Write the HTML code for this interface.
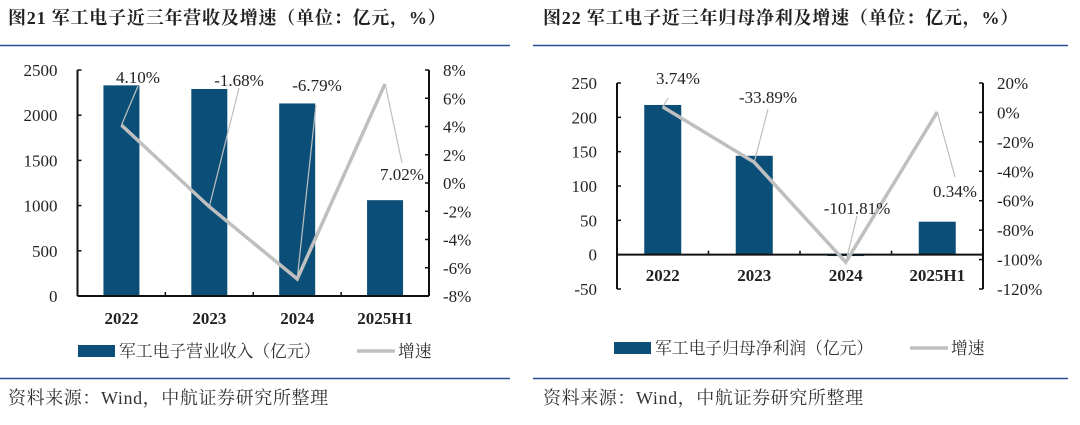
<!DOCTYPE html>
<html><head><meta charset="utf-8">
<style>
html,body{margin:0;padding:0;background:#fff;}
svg{display:block;}
.t{font-family:"Liberation Serif","Noto Serif CJK SC",serif;}
</style></head>
<body>
<svg id="s" width="1080" height="425" xmlns="http://www.w3.org/2000/svg">
<text class="t" x="8" y="24" font-size="18" letter-spacing="0.8" font-weight="bold" fill="#222">图21  军工电子近三年营收及增速（单位：亿元，%）</text>
<text class="t" x="543" y="24" font-size="18" letter-spacing="0.8" font-weight="bold" fill="#222">图22  军工电子近三年归母净利及增速（单位：亿元，%）</text>
<line x1="0" y1="45.5" x2="510" y2="45.5" stroke="#2a4f8f" stroke-width="1.5"/>
<line x1="533" y1="45.5" x2="1068" y2="45.5" stroke="#2a4f8f" stroke-width="1.5"/>
<line x1="0" y1="378.5" x2="510" y2="378.5" stroke="#2a4f8f" stroke-width="1.5"/>
<line x1="533" y1="378.5" x2="1068" y2="378.5" stroke="#2a4f8f" stroke-width="1.5"/>
<text class="t" x="8" y="404" font-size="18" letter-spacing="0.6" fill="#333">资料来源：Wind，中航证券研究所整理</text>
<text class="t" x="543" y="404" font-size="18" letter-spacing="0.6" fill="#333">资料来源：Wind，中航证券研究所整理</text>
</svg>
<script>
const cats = ["2022","2023","2024","2025H1"];
const rev = [2330, 2290, 2130, 1060];
const revG = [4.10, -1.68, -6.79, 7.02];
const revGLabels = ["4.10%","-1.68%","-6.79%","7.02%"];
const revLeftTicks = [0,500,1000,1500,2000,2500];
const revRightTicks = [-8,-6,-4,-2,0,2,4,6,8];
const np = [218, 144, -2, 48];
const npG = [3.74, -33.89, -101.81, 0.34];
const npGLabels = ["3.74%","-33.89%","-101.81%","0.34%"];
const npLeftTicks = [-50,0,50,100,150,200,250];
const npRightTicks = [-120,-100,-80,-60,-40,-20,0,20];

const svg = document.getElementById('s');
const NS = "http://www.w3.org/2000/svg";
function mk(tag, attrs, txt){const e=document.createElementNS(NS,tag);for(const k in attrs)e.setAttribute(k,attrs[k]);if(txt!==undefined)e.textContent=txt;svg.appendChild(e);return e;}

function chart(o){
  const {x0,x1,yTop,yBot,lmin,lmax,rmin,rmax,bars,grow,glabels,lt,rt,labelPos,pref,legendY,legendText,lineLegX,xlabY,barW} = o;
  const ly = v => yBot - (v-lmin)/(lmax-lmin)*(yBot-yTop);
  const ry = v => yBot - (v-rmin)/(rmax-rmin)*(yBot-yTop);
  const band = (x1-x0)/cats.length;
  const cx = i => x0 + band*(i+0.5);
  bars.forEach((v,i)=>{
    const y=Math.min(ly(v),ly(0)), h=Math.abs(ly(v)-ly(0));
    const r=mk('rect',{x:cx(i)-barW/2,y:y,width:barW,height:Math.max(h,1),fill:'#0b4f79'});
    
    
  });
  const zy=ly(0);
  let a=mk('line',{x1:x0,y1:yTop,x2:x0,y2:yBot,stroke:'#111','stroke-width':2});
   
  a=mk('line',{x1:x1,y1:yTop,x2:x1,y2:yBot,stroke:'#111','stroke-width':2});
   
  a=mk('line',{x1:x0,y1:zy,x2:x1,y2:zy,stroke:'#111','stroke-width':2});
   
  for(let i=1;i<cats.length;i++){mk('line',{x1:x0+band*i,y1:zy,x2:x0+band*i,y2:zy-4,stroke:'#111','stroke-width':1.5});}
  lt.forEach(v=>{
    mk('line',{x1:x0,y1:ly(v),x2:x0+4,y2:ly(v),stroke:'#111','stroke-width':1.5});
    const t=mk('text',{x:x0-20,y:ly(v)+6,'font-size':17,'text-anchor':'end',fill:'#222',class:'t'},String(v));
     
  });
  rt.forEach(v=>{
    mk('line',{x1:x1,y1:ry(v),x2:x1-4,y2:ry(v),stroke:'#111','stroke-width':1.5});
    const t=mk('text',{x:x1+14,y:ry(v)+6,'font-size':17,'text-anchor':'start',fill:'#222',class:'t'},v+'%');
     
  });
  cats.forEach((c,i)=>{
    const t=mk('text',{x:cx(i),y:xlabY,'font-size':17,'font-weight':'bold','text-anchor':'middle',fill:'#222',class:'t'},c);
     
  });
  const pts=grow.map((v,i)=>cx(i)+','+ry(v)).join(' ');
  const pl=mk('polyline',{points:pts,fill:'none',stroke:'#bfbfbf','stroke-width':3.5,'stroke-linejoin':'miter'});
   
  grow.forEach((v,i)=>{
    const [lx,lyy,ax,ay]=labelPos[i];
    mk('line',{x1:cx(i),y1:ry(v),x2:ax,y2:ay,stroke:'#bfbfbf','stroke-width':1.2});
    const t=mk('text',{x:lx,y:lyy,'font-size':17,'text-anchor':'middle',fill:'#222',class:'t'},glabels[i]);
     
  });
  let r=mk('rect',{x:o.legX,y:legendY-6,width:37,height:12,fill:'#0b4f79'});
   
  let t=mk('text',{x:o.legX+41,y:legendY+6,'font-size':16.8,fill:'#333',class:'t'},legendText);
   
  r=mk('line',{x1:lineLegX,y1:legendY,x2:lineLegX+38,y2:legendY,stroke:'#bfbfbf','stroke-width':3.5});
   
  t=mk('text',{x:lineLegX+41,y:legendY+6,'font-size':16.8,fill:'#333',class:'t'},'增速');
   
}

chart({x0:77.5,x1:429,yTop:70,yBot:296,lmin:0,lmax:2500,rmin:-8,rmax:8,bars:rev,grow:revG,glabels:revGLabels,
  lt:revLeftTicks,rt:revRightTicks,pref:'chart1',legendY:351,legX:78,legendText:'军工电子营业收入（亿元）',lineLegX:357,xlabY:324,barW:36,
  labelPos:[[138,83,138,86],[239,86,239,88],[317,91,316,105],[402,180,402,163]]});
chart({x0:617,x1:983,yTop:83,yBot:289,lmin:-50,lmax:250,rmin:-120,rmax:20,bars:np,grow:npG,glabels:npGLabels,
  lt:npLeftTicks,rt:npRightTicks,pref:'chart2',legendY:348,legX:614,legendText:'军工电子归母净利润（亿元）',lineLegX:910,xlabY:281,barW:37,
  labelPos:[[678,84,668,98],[768,103,768,109],[857,214,857,216],[955,197,955,177]]});
</script>
</body></html>
